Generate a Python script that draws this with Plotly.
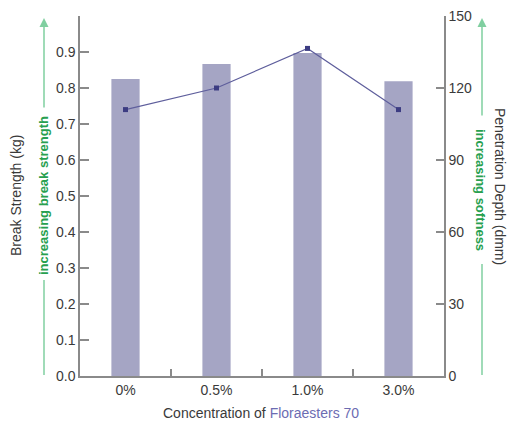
import plotly.graph_objects as go

categories = ["0%", "0.5%", "1.0%", "3.0%"]
break_strength = [0.825, 0.867, 0.897, 0.819]
penetration = [111, 120, 136.5, 111]
left_ticks = [0.0, 0.1, 0.2, 0.3, 0.4, 0.5, 0.6, 0.7, 0.8, 0.9]
right_ticks = [0, 30, 60, 90, 120, 150]

W, H = 512, 425
L, R, T, B = 80, 68, 16, 49
pw, ph = W - L - R, H - T - B

def px(x):
    return (x - L) / pw

def py(y):
    return (H - B - y) / ph

FONT = "Liberation Sans, Arial"
axis_col = "#8a8a8a"
tick_font = dict(family=FONT, size=14, color="#3a3a3a")
green_line = "#80cfa0"
green_text = "#27a04f"

fig = go.Figure()
fig.add_trace(go.Bar(x=categories, y=break_strength, marker=dict(color="#a5a5c4", line=dict(width=0)),
                     yaxis="y", showlegend=False))
fig.add_trace(go.Scatter(x=categories, y=penetration, yaxis="y2", mode="lines+markers",
                         line=dict(color="#5e5e9c", width=1.2),
                         marker=dict(symbol="square", size=5, color="#3c3c82"), showlegend=False))

fig.update_layout(
    width=W, height=H, margin=dict(l=L, r=R, t=T, b=B, autoexpand=False),
    plot_bgcolor="white", paper_bgcolor="white", bargap=0.69,
    xaxis=dict(type="category", showline=True, linecolor=axis_col, linewidth=1.5, ticks="inside",
               tickson="boundaries", ticklen=7, tickcolor=axis_col, tickwidth=1.5, tickfont=tick_font,
               showgrid=False, zeroline=False, automargin=False),
    yaxis=dict(range=[0, 1.0], tickvals=left_ticks, tickformat=".1f", showline=True, linecolor=axis_col,
               linewidth=1.5, ticks="inside", ticklen=9, tickcolor=axis_col, tickwidth=1.5,
               tickfont=tick_font, showgrid=False, zeroline=False, automargin=False),
    yaxis2=dict(range=[0, 150], tickvals=right_ticks, overlaying="y", side="right", showline=True,
                linecolor=axis_col, linewidth=1.5, ticks="inside", ticklen=8, tickcolor=axis_col,
                tickwidth=1.5, tickfont=tick_font, showgrid=False, zeroline=False, automargin=False),
)

def label(text, x, y, angle, size, color):
    fig.add_annotation(text=text, xref="paper", yref="paper", x=px(x), y=py(y), xanchor="center",
                       yanchor="middle", textangle=angle, showarrow=False,
                       font=dict(family=FONT, size=size, color=color))

# axis titles
label("Break Strength (kg)", 16, 196, -90, 14, "#3a3a3a")
label("<b>increasing break strength</b>", 43, 196, -90, 13, green_text)
label("Penetration Depth (dmm)", 500, 187, 90, 14, "#3a3a3a")
label("<b>increasing softness</b>", 480, 190, 90, 13, green_text)
label("Concentration of <span style='color:#6c6cb2'>Floraesters 70</span>", 261, 413, 0, 14, "#3a3a3a")

# green arrows
for xa, ytop, ybot_up, ylow_top in [(44, 18, 109, 280), (482, 18, 117, 264)]:
    fig.add_annotation(text="", xref="paper", yref="paper", x=px(xa), y=py(ytop), ax=0, ay=ybot_up - ytop,
                       axref="pixel", ayref="pixel", showarrow=True, arrowhead=2, arrowsize=1.2,
                       arrowwidth=1.5, arrowcolor=green_line)
    fig.add_shape(type="line", xref="paper", yref="paper", x0=px(xa), x1=px(xa), y0=py(ylow_top), y1=py(375),
                  line=dict(color=green_line, width=1.5))

fig.write_html("out.html", config={"displayModeBar": False},
               post_script="document.body.style.margin='0';document.body.style.padding='0';")
